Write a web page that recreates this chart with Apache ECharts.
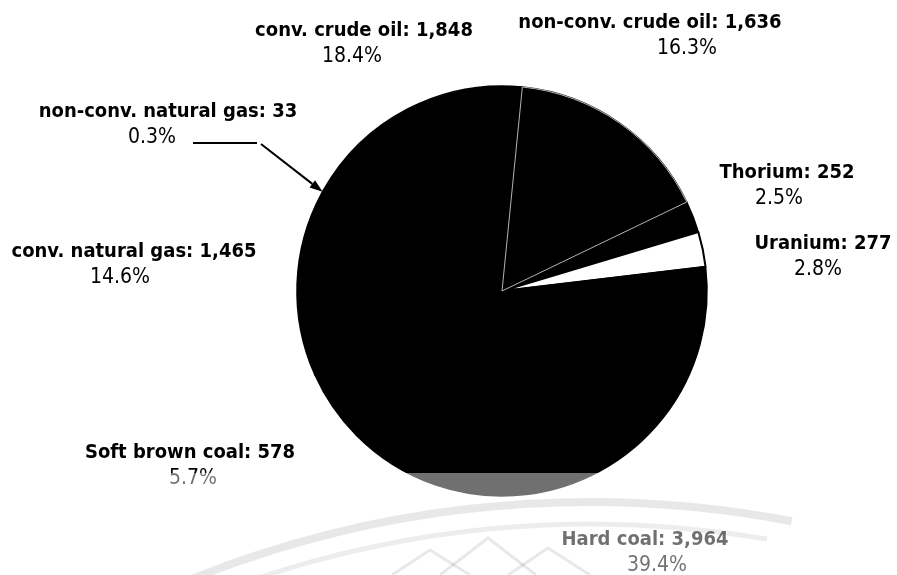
<!DOCTYPE html>
<html>
<head>
<meta charset="utf-8">
<script src="https://cdn.jsdelivr.net/npm/echarts@6/dist/echarts.min.js"></script>
<style>
  html, body { margin: 0; padding: 0; background: #ffffff; }
  #chart { width: 897px; height: 575px; }
</style>
</head>
<body>
<div id="chart"></div>
<script>
// Energy reserves by source, clockwise from just right of 12 o'clock
const categories = [
  'non-conv. crude oil', 'Thorium', 'Uranium', 'Hard coal',
  'Soft brown coal', 'conv. natural gas', 'non-conv. natural gas', 'conv. crude oil'
];
const reserves = [1636, 252, 277, 3964, 578, 1465, 33, 1848];

// slice fills
const sliceColors = ['#000000', '#000000', '#ffffff', '#000000', '#000000', '#000000', '#000000', '#000000'];
// centre of each two-line label block
const labelAnchors = [[650, 36], [787, 186], [823, 257], [645, 553], [190, 466], [134, 265], [168, 125], [364, 44]];
// horizontal shift of the percentage line against the name line
const pctShift = [37, -8, -5, 12, 3, -14, -16, -12];

const PIE_CX = 502, PIE_CY = 291, PIE_R = 205;
const START_ANGLE = 84.3; // degrees, ECharts convention (counter-clockwise from 3 o'clock)

const fmt = v => v.toLocaleString('en-US');
const FONT = '"DejaVu Sans Condensed", "DejaVu Sans", sans-serif';

function richFor(i) {
  const s = pctShift[i] * 2;
  return {
    b: { fontFamily: FONT, fontWeight: 'bold', fontSize: 20, color: '#000', lineHeight: 26 },
    p: { fontFamily: FONT, fontWeight: 'normal', fontSize: 21, color: '#000', lineHeight: 26,
         padding: s >= 0 ? [0, 0, 0, s] : [0, -s, 0, 0] }
  };
}

const pieData = categories.map((name, i) => ({
  name,
  value: reserves[i],
  itemStyle: {
    color: sliceColors[i],
    borderColor: '#000',
    borderWidth: i === 2 ? 2 : 1.6,
    borderJoin: 'round'
  },
  label: { rich: richFor(i) }
}));

// thin light edges around the non-conventional crude oil slice, drawn on top
const edgeData = categories.map((name, i) => ({
  name,
  value: reserves[i],
  itemStyle: {
    color: 'transparent',
    borderColor: i === 0 ? 'rgba(255,255,255,0.7)' : 'transparent',
    borderWidth: i === 0 ? 1 : 0
  }
}));

// pointer for the tiny non-conventional gas slice, aimed at its mid angle
const total = reserves.reduce((a, b) => a + b, 0);
const gasIdx = categories.indexOf('non-conv. natural gas');
const before = reserves.slice(0, gasIdx).reduce((a, b) => a + b, 0);
const theta = ((90 - START_ANGLE) + (before + reserves[gasIdx] / 2) / total * 360) * Math.PI / 180;
const tip = [PIE_CX + PIE_R * Math.sin(theta), PIE_CY - PIE_R * Math.cos(theta)];
const tail = [261, 144];
const dx = tip[0] - tail[0], dy = tip[1] - tail[1];
const len = Math.hypot(dx, dy), ux = dx / len, uy = dy / len;
const headL = 13, headW = 4.5;
const base = [tip[0] - ux * headL, tip[1] - uy * headL];

const pieCommon = {
  type: 'pie',
  center: [PIE_CX, PIE_CY],
  radius: [0, PIE_R],
  startAngle: START_ANGLE,
  clockwise: true,
  percentPrecision: 1,
  avoidLabelOverlap: false,
  emphasis: { disabled: true },
  silent: true
};

const chart = echarts.init(document.getElementById('chart'), null, { renderer: 'canvas' });
chart.setOption({
  backgroundColor: '#ffffff',
  animation: false,
  series: [
    Object.assign({}, pieCommon, {
      data: pieData,
      label: {
        show: true,
        position: 'outside',
        align: 'center',
        formatter: p => `{b|${p.name}: ${fmt(p.value)}}\n{p|${p.percent.toFixed(1)}%}`
      },
      labelLine: { show: false },
      labelLayout: params => {
        const a = labelAnchors[params.dataIndex];
        return { x: a[0], y: a[1], align: 'center', verticalAlign: 'middle' };
      }
    }),
    Object.assign({}, pieCommon, {
      z: 3,
      data: edgeData,
      label: { show: false },
      labelLine: { show: false }
    })
  ],
  graphic: [
    // leader and arrow
    { type: 'line', z: 50, shape: { x1: 193, y1: 143, x2: 257, y2: 143 }, style: { stroke: '#000', lineWidth: 2 } },
    { type: 'line', z: 50, shape: { x1: tail[0], y1: tail[1], x2: base[0], y2: base[1] }, style: { stroke: '#000', lineWidth: 2 } },
    { type: 'polygon', z: 50, shape: { points: [
        tip,
        [base[0] - uy * headW, base[1] + ux * headW],
        [base[0] + uy * headW, base[1] - ux * headW]
      ] }, style: { fill: '#000' } },
    // pale seal over the lower edge
    { type: 'rect', z: 100, shape: { x: 0, y: 473, width: 897, height: 102 }, style: { fill: 'rgba(255,255,255,0.44)' } },
    { type: 'arc', z: 101, shape: { cx: 590, cy: 1570, r: 1068, startAngle: -Math.PI / 2 - 0.42, endAngle: -Math.PI / 2 + 0.19 },
      style: { fill: 'none', stroke: 'rgba(0,0,0,0.09)', lineWidth: 8 } },
    { type: 'arc', z: 101, shape: { cx: 590, cy: 1570, r: 1046, startAngle: -Math.PI / 2 - 0.36, endAngle: -Math.PI / 2 + 0.17 },
      style: { fill: 'none', stroke: 'rgba(0,0,0,0.07)', lineWidth: 5 } },
    { type: 'polyline', z: 101, shape: { points: [[392, 575], [430, 550], [470, 575]] }, style: { stroke: 'rgba(0,0,0,0.09)', lineWidth: 3 } },
    { type: 'polyline', z: 101, shape: { points: [[440, 575], [488, 538], [536, 575]] }, style: { stroke: 'rgba(0,0,0,0.09)', lineWidth: 3 } },
    { type: 'polyline', z: 101, shape: { points: [[508, 575], [548, 548], [590, 575]] }, style: { stroke: 'rgba(0,0,0,0.09)', lineWidth: 3 } }
  ]
});
</script>
</body>
</html>
